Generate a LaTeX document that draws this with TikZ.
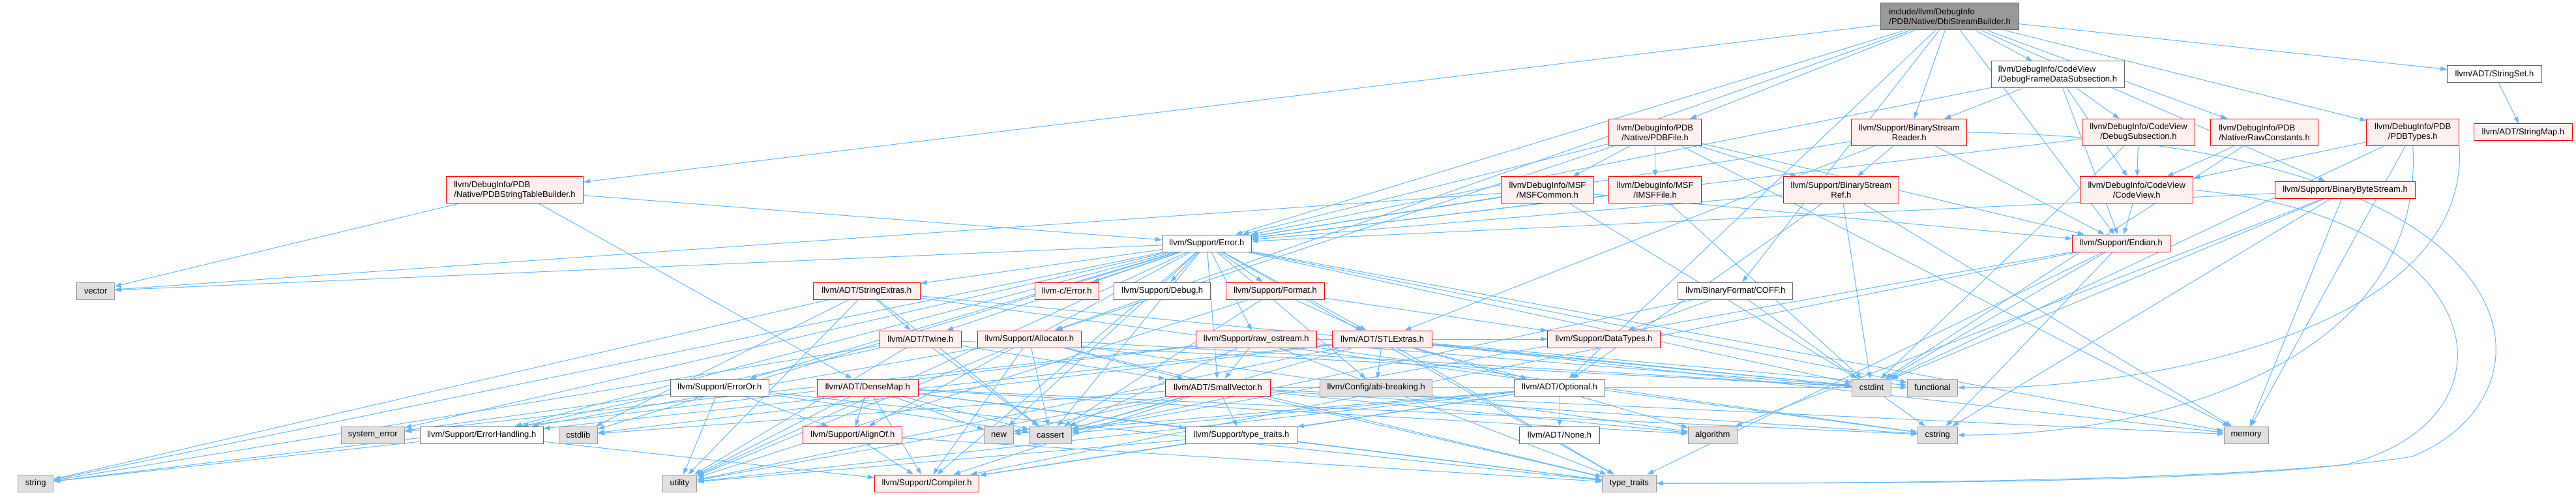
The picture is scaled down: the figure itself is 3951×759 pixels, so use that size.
\documentclass[tikz,border=0pt]{standalone}
\usepackage{fontspec}
\setmainfont{Liberation Sans}
\usetikzlibrary{arrows.meta}
\definecolor{edgec}{HTML}{63B8FF}
\definecolor{redfill}{HTML}{FFF0F0}
\definecolor{reddraw}{HTML}{FF0000}
\definecolor{sysfill}{HTML}{E0E0E0}
\definecolor{sysdraw}{HTML}{999999}
\definecolor{wdraw}{HTML}{666666}
\definecolor{rootfill}{HTML}{999999}
\definecolor{rootdraw}{HTML}{666666}
\pgfdeclarelayer{bglayer}
\pgfdeclarelayer{edgelayer}
\pgfsetlayers{bglayer,edgelayer,main}
\newcommand\mkedges[2]{\foreach \tgt in {#2}{\draw[lnk] (#1) -- (\tgt);}}
\begin{document}
\begin{tikzpicture}[x=1pt,y=-1pt,
  base/.style={draw, line width=1pt, inner sep=0pt, font=\fontsize{13}{15}\selectfont, text=black, align=center},
  rootn/.style={base, fill=rootfill, draw=rootdraw},
  wn/.style={base, fill=white, draw=wdraw},
  rn/.style={base, fill=redfill, draw=reddraw},
  gn/.style={base, fill=sysfill, draw=sysdraw},
  lnk/.style={draw=edgec, line width=1pt, -{Triangle[length=10pt,width=7pt]}},
  sz/.style 2 args={minimum width=#1pt, minimum height=#2pt}]
\begin{pgfonlayer}{bglayer}
\fill[white] (0,0) rectangle (3951,759);
\end{pgfonlayer}
\useasboundingbox (0,0) rectangle (3951,759);
% row 0
\node[rootn, sz={211.6}{41}, align=left] (root) at (2990.6,25.5) {include/llvm/DebugInfo\\/PDB/Native/DbiStreamBuilder.h};
% row 1
\node[wn, sz={204}{41}, align=left] (dfds) at (3156,114.5) {llvm/DebugInfo/CodeView\\/DebugFrameDataSubsection.h};
\node[wn, sz={144.6}{26}] (sset) at (3825.9,114) {llvm/ADT/StringSet.h};
% row 2
\node[rn, sz={150.5}{26}] (smap) at (3869.9,203) {llvm/ADT/StringMap.h};
\node[rn, sz={141.5}{41}] (pdbfile) at (2538.6,203) {llvm/DebugInfo/PDB\\/Native/PDBFile.h};
\node[rn, sz={177.2}{41}] (bsr) at (2928.3,203) {llvm/Support/BinaryStream\\Reader.h};
\node[rn, sz={173.2}{41}] (dsub) at (3280,203) {llvm/DebugInfo/CodeView\\/DebugSubsection.h};
\node[rn, sz={164.8}{41}, align=left] (rawc) at (3473,203) {llvm/DebugInfo/PDB\\/Native/RawConstants.h};
\node[rn, sz={141.5}{41}] (pdbtypes) at (3700.7,203) {llvm/DebugInfo/PDB\\/PDBTypes.h};
% row 3
\node[rn, sz={210.3}{41}, align=left] (stb) at (789.5,291.5) {llvm/DebugInfo/PDB\\/Native/PDBStringTableBuilder.h};
\node[rn, sz={141.5}{41}] (msfc) at (2373.5,291.5) {llvm/DebugInfo/MSF\\/MSFCommon.h};
\node[rn, sz={141.5}{41}] (imsf) at (2538.6,291.5) {llvm/DebugInfo/MSF\\/IMSFFile.h};
\node[rn, sz={177.2}{41}] (bsref) at (2823.9,291.5) {llvm/Support/BinaryStream\\Ref.h};
\node[rn, sz={173.2}{41}] (cv) at (3277.2,291.5) {llvm/DebugInfo/CodeView\\/CodeView.h};
\node[rn, sz={214.8}{26}] (bbs) at (3597.1,291.5) {llvm/Support/BinaryByteStream.h};
% row 4
\node[wn, sz={136.6}{26}] (err) at (1850.9,373) {llvm/Support/Error.h};
\node[rn, sz={149.5}{26}] (endian) at (3253.3,373) {llvm/Support/Endian.h};
% row 5
\node[gn, sz={57.6}{26}] (vec) at (146.7,446) {vector};
\node[rn, sz={163.9}{26}] (sextra) at (1329.3,446) {llvm/ADT/StringExtras.h};
\node[rn, sz={98.2}{26}] (cerr) at (1636.2,446) {llvm-c/Error.h};
\node[wn, sz={147.3}{26}] (debug) at (1782.6,446) {llvm/Support/Debug.h};
\node[rn, sz={150.5}{26}] (format) at (1956,446) {llvm/Support/Format.h};
\node[wn, sz={175.9}{26}] (coff) at (2661.7,446) {llvm/BinaryFormat/COFF.h};
% row 6
\node[rn, sz={125.5}{26}] (twine) at (1411.8,520) {llvm/ADT/Twine.h};
\node[rn, sz={159.4}{26}] (alloc) at (1578.8,520) {llvm/Support/Allocator.h};
\node[rn, sz={184.8}{26}] (rawos) at (1926.8,520) {llvm/Support/raw\_ostream.h};
\node[rn, sz={153.6}{26}] (stlx) at (2120.1,520) {llvm/ADT/STLExtras.h};
\node[rn, sz={172.3}{26}] (dtypes) at (2459.9,520) {llvm/Support/DataTypes.h};
% row 7
\node[wn, sz={150.4}{26}] (erroror) at (1103.8,594) {llvm/Support/ErrorOr.h};
\node[rn, sz={154.4}{26}] (dmap) at (1330.8,594) {llvm/ADT/DenseMap.h};
\node[rn, sz={161.6}{26}] (svec) at (1867.9,594) {llvm/ADT/SmallVector.h};
\node[gn, sz={172.3}{26}] (abi) at (2110.8,594) {llvm/Config/abi-breaking.h};
\node[wn, sz={139.3}{26}] (opt) at (2392,594) {llvm/ADT/Optional.h};
\node[gn, sz={59.8}{26}] (cstdint) at (2870.5,594) {cstdint};
\node[gn, sz={77.2}{26}] (functional) at (2964,594) {functional};
% row 8
\node[gn, sz={97.3}{26}] (syserr) at (571.9,667) {system\_error};
\node[wn, sz={188.4}{26}] (eh) at (738.8,667) {llvm/Support/ErrorHandling.h};
\node[gn, sz={59.4}{26}] (cstdlib) at (886.8,667) {cstdlib};
\node[rn, sz={152.2}{26}] (alignof) at (1307.8,667) {llvm/Support/AlignOf.h};
\node[gn, sz={45.1}{26}] (new) at (1532,667) {new};
\node[gn, sz={64.7}{26}] (cassert) at (1611,667) {cassert};
\node[wn, sz={170.5}{26}] (tth) at (1904,667) {llvm/Support/type\_traits.h};
\node[wn, sz={122.3}{26}] (none) at (2392,667) {llvm/ADT/None.h};
\node[gn, sz={75}{26}] (algorithm) at (2626.8,667) {algorithm};
\node[gn, sz={60.7}{26}] (cstring) at (2971.8,667) {cstring};
\node[gn, sz={67.9}{26}] (memory) at (3445.1,667) {memory};
% row 9
\node[gn, sz={54}{26}] (string) at (54.7,741) {string};
\node[gn, sz={52.7}{26}] (utility) at (1042.5,741) {utility};
\node[rn, sz={160.7}{26}] (compiler) at (1421.5,741) {llvm/Support/Compiler.h};
\node[gn, sz={82.6}{26}] (tt) at (2498.9,741) {type\_traits};
% edges
\begin{pgfonlayer}{edgelayer}
\mkedges{root}{sset,pdbtypes,bbs,rawc,dfds,endian,bsr,coff,err,stb,pdbfile,opt,alloc}
\mkedges{dfds}{bsr,dsub,cv,endian,err}
\mkedges{sset}{smap}
\mkedges{pdbfile}{imsf,msfc,alloc,bsref,endian,err,memory}
\mkedges{bsr}{stlx,bsref,endian,err}
\mkedges{dsub}{cv,err,cstdint}
\mkedges{rawc}{cv,cstdint}
\mkedges{pdbtypes}{cv,cstdint,memory}
\mkedges{stb}{err,vec,dmap}
\mkedges{msfc}{endian,err,cstdint,vec}
\mkedges{imsf}{err,cstdint}
\mkedges{bsref}{opt,err,cstdint,memory}
\mkedges{cv}{endian}
\mkedges{bbs}{err,algorithm,cstdint,cstring,memory}
\mkedges{err}{cerr,stlx,svec,sextra,twine,abi,alignof,compiler,debug,eh,erroror,format,rawos,cassert,cstdint,cstdlib,functional,memory,new,string,syserr,tt,utility,vec}
\mkedges{endian}{compiler,cassert,cstdint,cstring,tt}
\mkedges{sextra}{twine,cassert,cstdint,cstdlib,cstring,string,utility}
\mkedges{coff}{dtypes,cassert,cstring}
\mkedges{twine}{svec,eh,cassert,cstdint,string,utility}
\mkedges{alloc}{svec,compiler,eh,algorithm,cassert,cstdint,tt,utility}
\mkedges{format}{stlx,dtypes,cassert,utility}
\mkedges{rawos}{svec,dtypes,cassert,cstdint,cstring,string,syserr,tt}
\mkedges{stlx}{opt,abi,eh,algorithm,cassert,cstdint,cstdlib,functional,memory,tt,utility}
\mkedges{erroror}{alignof,cassert,syserr,tt,utility}
\mkedges{dmap}{alignof,compiler,tth,algorithm,cassert,cstring,new,tt,utility}
\mkedges{svec}{compiler,tth,algorithm,cassert,cstdlib,cstring,functional,memory,new,tt,utility}
\mkedges{alignof}{compiler,tt}
\mkedges{tth}{compiler,tt,utility}
\mkedges{opt}{none,compiler,tth,cassert,new,utility}
\mkedges{eh}{compiler,string}
% sweeping curves on the right side
\draw[lnk] (pdbtypes.south) .. controls (3720,560) and (3300,668) .. (cstring.east);
\draw[lnk] (pdbtypes.south east) .. controls (3790,520) and (3250,600) .. (functional.east);
\draw[lnk] (bsr.east) .. controls (3900,215) and (3945,600) .. (3700,700) .. controls (3450,740) and (2800,741) .. (tt.east);
\draw[lnk] (cv.east) .. controls (3820,330) and (3880,640) .. (3600,712) .. controls (3350,742) and (2800,741) .. (tt.east);
\end{pgfonlayer}
\end{tikzpicture}
\end{document}
